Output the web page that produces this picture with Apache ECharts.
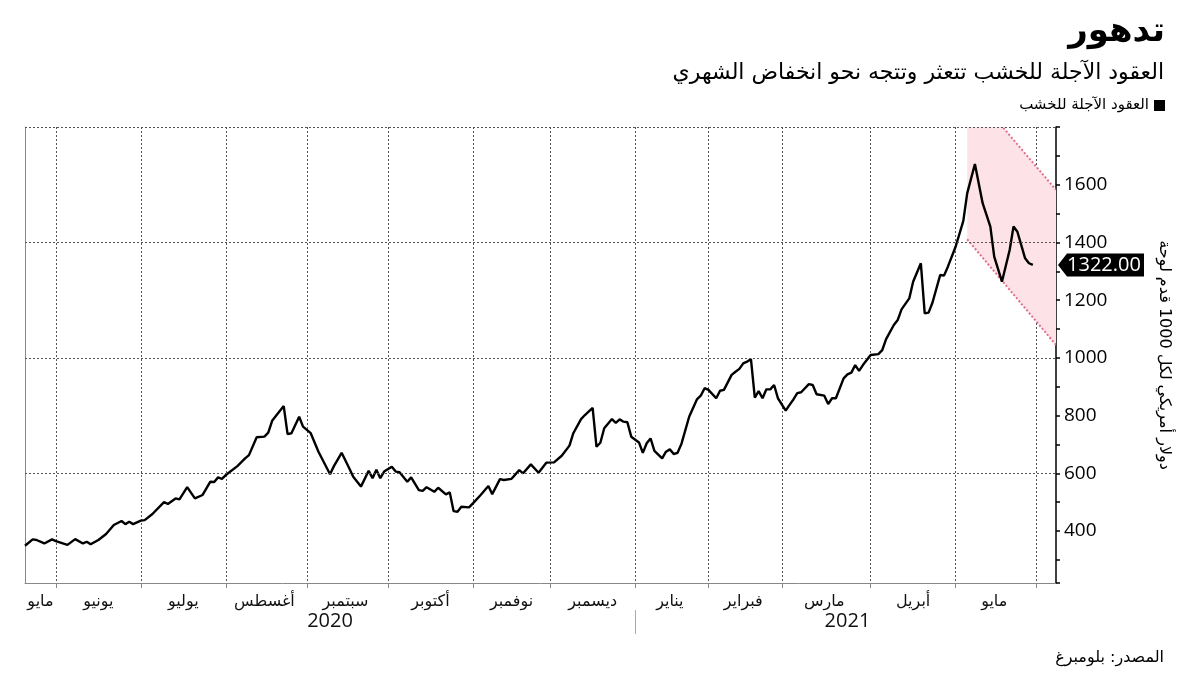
<!DOCTYPE html>
<html><head><meta charset="utf-8">
<script src="https://cdn.jsdelivr.net/npm/echarts@6/dist/echarts.min.js"></script>
<style>html,body{margin:0;padding:0;background:#fff}#c{width:1200px;height:675px}</style>
</head><body><div id="c"></div>
<script>
const titleText = 'تدهور';
const subtitleText = 'العقود الآجلة للخشب تتعثر وتتجه نحو انخفاض الشهري';
const seriesName = 'العقود الآجلة للخشب';
const yAxisName = 'دولار أمريكي لكل 1000 قدم لوحة';
const sourceText = 'المصدر: بلومبرغ';

// trading-day category axis
const startDate = '2020-05-19';
const endDate = '2021-06-08';
const holidays = ['2020-05-25','2020-07-03','2020-09-07','2020-11-26','2020-12-25','2021-01-01','2021-01-18','2021-02-15'];
const monthNames = ['يناير','فبراير','مارس','أبريل','مايو','يونيو','يوليو','أغسطس','سبتمبر','أكتوبر','نوفمبر','ديسمبر'];
const labeledMonths = ['2020-05','2020-06','2020-07','2020-08','2020-09','2020-10','2020-11','2020-12','2021-01','2021-02','2021-03','2021-04','2021-05'];
const yearLabels = ['2020','2021'];

// series: trading-day index -> price
const dayIndex = [0,2,3,5,7,8,11,13,15,16,17,19,21,23,25,26,27,28,30,31,33,36,37,39,40,42,44,46,48,49,50,51,52,55,57,58,60,62,63,64,67,68,69,71,72,74,76,79,80,82,84,85,87,89,90,91,92,93,95,96,97,99,100,102,103,104,106,107,109,110,111,112,113,115,116,118,120,121,123,124,126,128,129,131,133,135,137,139,141,142,144,145,147,148,149,150,152,153,154,155,156,157,159,160,161,162,163,165,166,167,168,169,170,172,174,175,176,177,179,180,181,183,184,185,186,187,188,189,190,191,192,193,194,195,197,198,199,200,201,203,204,205,207,208,209,210,212,213,214,215,216,217,219,221,222,223,225,226,227,229,230,232,233,234,235,237,238,239,241,243,244,246,248,250,251,253,255,256,257,259,260,261];
const price = [349,371,369,357,371,365,352,372,357,363,354,369,390,421,435,424,432,424,436,438,459,500,494,513,510,552,513,525,571,570,586,581,594,625,652,663,725,727,741,782,833,736,739,796,762,739,675,597,625,671,617,588,554,609,583,612,583,606,623,606,604,571,586,542,539,552,536,550,527,534,469,467,484,482,496,525,556,528,580,577,581,611,600,631,602,637,638,661,696,739,788,802,827,692,706,756,788,775,787,779,777,727,707,671,704,721,678,652,675,683,667,671,702,796,856,869,895,889,860,886,889,941,952,962,981,987,996,862,885,860,891,891,906,860,817,837,856,878,881,909,906,874,869,840,860,860,929,943,949,975,955,975,1010,1013,1027,1065,1114,1131,1168,1206,1264,1328,1154,1157,1191,1287,1285,1316,1385,1475,1570,1672,1536,1455,1351,1264,1374,1455,1437,1345,1328,1322];

// downtrend channel
const bandDayIndex = [244, 267];
const bandUpper = [1945, 1582];
const bandLower = [1411, 1045];

// y axis
const yMin = 220, yMax = 1800;
const yLabelValues = [400,600,800,1000,1200,1400,1600];
const yGridLevels = [600,1000,1400,1800];

const categories = [];
for (let d = new Date(startDate + 'T00:00:00Z'); d <= new Date(endDate + 'T00:00:00Z'); d.setUTCDate(d.getUTCDate() + 1)) {
  const dow = d.getUTCDay();
  const s = d.toISOString().slice(0, 10);
  if (dow === 0 || dow === 6 || holidays.includes(s)) continue;
  categories.push(s);
}
const monthStart = new Set();
for (let i = 1; i < categories.length; i++) {
  if (categories[i].slice(0, 7) !== categories[i - 1].slice(0, 7)) monthStart.add(i);
}
const monthLabelMap = new Map();
labeledMonths.forEach(m => {
  const idx = categories.map((c, i) => c.slice(0, 7) === m ? i : -1).filter(i => i >= 0);
  const mid = Math.round((idx[0] + idx[idx.length - 1]) / 2);
  monthLabelMap.set(mid, monthNames[parseInt(m.slice(5, 7), 10) - 1]);
});
const yearLabelMap = new Map();
let yearBoundary = -1;
yearLabels.forEach(y => {
  const idx = categories.map((c, i) => c.slice(0, 4) === y ? i : -1).filter(i => i >= 0);
  yearLabelMap.set(Math.round((idx[0] + idx[idx.length - 1]) / 2), y);
  if (idx[0] > 0) yearBoundary = idx[0];
});

const lineData = dayIndex.map((d, i) => [d, price[i]]);
const lastPrice = price[price.length - 1];
const arabicFont = '"DejaVu Sans", sans-serif';
const numFont = '"Open Sans", sans-serif';

const chart = echarts.init(document.getElementById('c'));
chart.setOption({
  animation: false,
  backgroundColor: '#fff',
  title: [
    {text: titleText, right: 30, top: 10, textStyle: {fontSize: 34, fontWeight: 'bold', fontFamily: arabicFont, color: '#000'}},
    {text: subtitleText, right: 31, top: 57, textStyle: {fontSize: 22, fontWeight: 'normal', fontFamily: arabicFont, color: '#000'}},
    {text: sourceText, right: 31, top: 645, textStyle: {fontSize: 16, fontWeight: 'normal', fontFamily: arabicFont, color: '#000'}}
  ],
  legend: {
    data: [seriesName], right: 30, top: 93, icon: 'rect', itemWidth: 11, itemHeight: 11, align: 'right', itemGap: 4,
    textStyle: {fontSize: 15, fontFamily: arabicFont, color: '#000', padding: [0, 0, 0, 0]}
  },
  grid: {left: 25, right: 144, top: 127, bottom: 92},
  xAxis: [
    {
      type: 'category', data: categories, boundaryGap: false,
      axisLine: {lineStyle: {color: '#888', width: 1}},
      axisTick: {interval: i => monthStart.has(i), length: 5, lineStyle: {color: '#888'}},
      axisLabel: {interval: i => monthLabelMap.has(i), formatter: (v, i) => monthLabelMap.get(i) || '', fontSize: 16, fontFamily: arabicFont, color: '#111', margin: 11},
      splitLine: {show: true, interval: i => monthStart.has(i), lineStyle: {type: [2, 2], color: '#555', width: 1}}
    },
    {
      type: 'category', data: categories, boundaryGap: false, position: 'bottom', offset: 27,
      axisLine: {show: false},
      axisTick: {show: true, interval: i => i === yearBoundary, length: 24, lineStyle: {color: '#aaa'}},
      axisLabel: {interval: i => yearLabelMap.has(i), formatter: (v, i) => yearLabelMap.get(i) || '', fontSize: 20, fontFamily: numFont, color: '#111', margin: 1},
      splitLine: {show: false}
    }
  ],
  yAxis: [
    {
      type: 'value', position: 'right', min: yMin, max: yMax, splitNumber: 16,
      axisLine: {show: true, lineStyle: {color: '#000', width: 1.5}},
      axisTick: {show: true, length: 4, lineStyle: {color: '#000', width: 1.5}},
      axisLabel: {formatter: v => yLabelValues.includes(v) ? String(v) : '', fontSize: 19, fontFamily: numFont, color: '#000', margin: 8},
      splitLine: {show: false},
      name: yAxisName, nameLocation: 'middle', nameRotate: -90, nameGap: 100,
      nameTextStyle: {fontSize: 16, fontFamily: arabicFont, color: '#000'}
    },
    {
      type: 'value', position: 'left', min: yMin, max: yMax,
      axisLine: {show: true, lineStyle: {color: '#888', width: 1}},
      axisTick: {show: false}, axisLabel: {show: false}, splitLine: {show: false}
    }
  ],
  series: [
    {
      type: 'custom', silent: true, clip: true, z: 1,
      xAxisIndex: 0, yAxisIndex: 0,
      data: bandDayIndex.map((d, i) => [d, bandUpper[i], bandLower[i]]),
      encode: {x: 0, y: [1, 2]},
      renderItem: (params, api) => {
        if (params.dataIndex !== 0) return;
        const u0 = api.coord([bandDayIndex[0], bandUpper[0]]);
        const u1 = api.coord([bandDayIndex[1], bandUpper[1]]);
        const l0 = api.coord([bandDayIndex[0], bandLower[0]]);
        const l1 = api.coord([bandDayIndex[1], bandLower[1]]);
        return {
          type: 'group',
          children: [
            {type: 'polygon', shape: {points: [u0, u1, l1, l0]}, style: {fill: '#fde3e8'}},
            {type: 'polyline', shape: {points: [u0, u1]}, style: {stroke: '#e26d8b', lineWidth: 2, lineDash: [2, 2], fill: null}},
            {type: 'polyline', shape: {points: [l0, l1]}, style: {stroke: '#e26d8b', lineWidth: 2, lineDash: [2, 2], fill: null}}
          ]
        };
      }
    },
    {
      name: seriesName, type: 'line', data: lineData, showSymbol: false, clip: false, z: 3,
      itemStyle: {color: '#000'},
      lineStyle: {color: '#000', width: 2.4},
      markLine: {
        silent: true, symbol: ['none', 'none'], label: {show: false},
        lineStyle: {type: [2, 2], color: '#555', width: 1},
        data: yGridLevels.map(v => ({yAxis: v}))
      },
      markPoint: {
        silent: true,
        symbol: 'path://M0,11.5L9,0L86,0L86,23L9,23Z',
        symbolSize: [86, 23], symbolOffset: [45, 0],
        itemStyle: {color: '#000'},
        label: {show: true, position: 'inside', offset: [3, 0], formatter: () => lastPrice.toFixed(2), color: '#fff', fontSize: 20, fontFamily: numFont},
        data: [{coord: [categories[categories.length - 1], lastPrice]}]
      }
    }
  ]
});
</script>
</body></html>
